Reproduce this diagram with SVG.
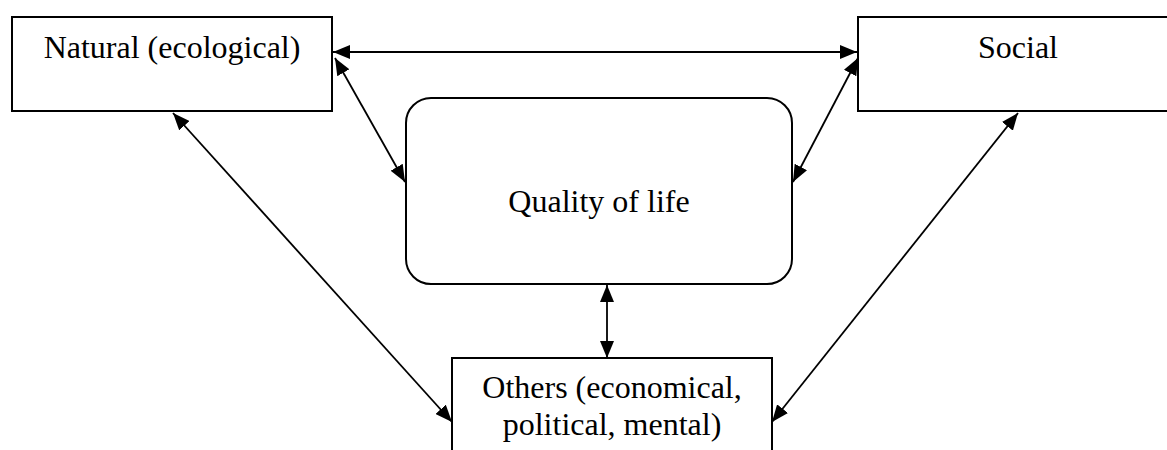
<svg xmlns="http://www.w3.org/2000/svg" width="1167" height="450" viewBox="0 0 1167 450">
<style>
.box{fill:#fff;stroke:#000;stroke-width:2}
.t{font-family:"Liberation Serif","Times New Roman",serif;font-size:32px;fill:#000;text-anchor:middle}
.c{stroke:#000;stroke-width:1.8;fill:none;marker-start:url(#ah);marker-end:url(#ah)}
</style>
<defs>
<marker id="ah" markerUnits="userSpaceOnUse" markerWidth="17" markerHeight="14" refX="17" refY="7" orient="auto-start-reverse" viewBox="0 0 17 14">
<path d="M0,0 L17,7 L0,14 z" fill="#000"/>
</marker>
</defs>
<rect width="1167" height="450" fill="#fff"/>
<g id="natural"><rect class="box" x="12" y="17" width="320" height="94"/><text class="t" x="172" y="58">Natural (ecological)</text></g>
<g id="social"><rect class="box" x="858" y="17" width="320" height="94"/><text class="t" x="1018" y="58">Social</text></g>
<g id="quality"><rect class="box" x="406" y="98" width="386" height="186" rx="25" ry="25"/><text class="t" x="599" y="212">Quality of life</text></g>
<g id="others"><rect class="box" x="452" y="358" width="320" height="120"/><text class="t" x="612" y="398">Others (economical,</text><text class="t" x="612" y="435">political, mental)</text></g>
<g id="connectors">
<line class="c" x1="333" y1="52" x2="857" y2="52"/>
<line class="c" x1="335" y1="58" x2="405" y2="182"/>
<line class="c" x1="858" y1="58" x2="793" y2="182"/>
<line class="c" x1="173" y1="113" x2="452" y2="422"/>
<line class="c" x1="1018" y1="113" x2="772" y2="422"/>
<line class="c" x1="607" y1="285" x2="607" y2="358"/>
</g>
</svg>
